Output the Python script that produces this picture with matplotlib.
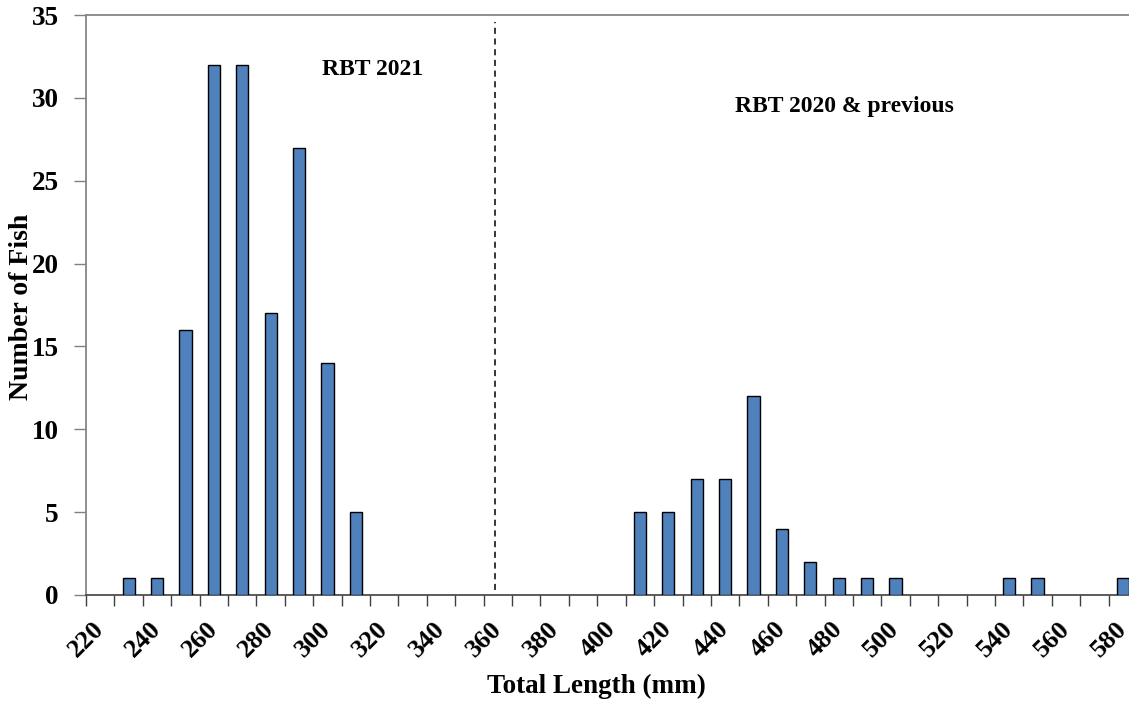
import matplotlib
matplotlib.use("Agg")
import matplotlib.pyplot as plt
import numpy as np

# Length classes (mm) and fish counts per class
lengths = list(range(220, 590, 10))
counts = [0, 1, 1, 16, 32, 32, 17, 27, 14, 5,
          0, 0, 0, 0, 0, 0, 0, 0, 0, 5,
          5, 7, 7, 12, 4, 2, 1, 1, 1, 0,
          0, 0, 1, 1, 0, 0, 1]
tick_labels = [str(v) for v in range(220, 590, 20)]
yticks = list(range(0, 40, 5))
divider_mm = 359
group_labels = ["RBT 2021", "RBT 2020 & previous"]

plt.rcParams['font.family'] = ['Liberation Serif', 'DejaVu Serif']

W, H = 1129, 702
fig = plt.figure(figsize=(W / 100, H / 100), dpi=100)
ax = fig.add_axes([86 / W, 107 / H, 1051 / W, 580 / H])

# Empty classes are left blank rather than drawn as flat outlines
x_drawn = [x for x, c in zip(lengths, counts) if c > 0]
c_drawn = [c for c in counts if c > 0]
ax.bar(x_drawn, c_drawn, width=4.3, color='#4F81BD', edgecolor='black',
       linewidth=1.0, zorder=3)

ax.set_xlim(215, 585)
ax.set_ylim(0, 35)

# Category boundaries get tick marks; labels sit on every other class
ax.set_xticks(np.arange(215, 586, 10))
ax.set_xticklabels([])
ax.set_xticks(list(range(220, 590, 20)), minor=True)
ax.set_xticklabels(tick_labels, minor=True, rotation=45, ha='right',
                   va='center', rotation_mode='anchor', fontsize=19,
                   fontweight='bold')
ax.tick_params(axis='x', which='major', direction='out', length=8,
               width=1, color='#404040')
ax.tick_params(axis='x', which='minor', length=0, pad=22)

ax.set_yticks(yticks)
ax.set_yticklabels([str(v) for v in yticks], fontsize=19.5,
                   fontweight='bold')
ax.tick_params(axis='y', direction='out', length=9, width=1,
               color='#808080', pad=10.5)

for side in ['left', 'top']:
    ax.spines[side].set_color('#868686')
    ax.spines[side].set_linewidth(1.3)
ax.spines['bottom'].set_color('#404040')
ax.spines['bottom'].set_linewidth(1.2)
ax.spines['right'].set_visible(False)

fig.text(22 / W, 1 - 307 / H, "Number of Fish", rotation=90, fontsize=20,
         fontweight='bold', ha='center', va='center')
fig.text(596 / W, 1 - 686 / H, "Total Length (mm)", fontsize=19.5,
         fontweight='bold', ha='center', va='center')

# Divider between year classes
ax.plot([divider_mm, divider_mm], [0.3, 34.6], linestyle=(0, (4, 3)),
        color='black', linewidth=1.1, zorder=2)

ax.text(316, 31.7, group_labels[0], fontsize=17, fontweight='bold',
        ha='center', va='center')
ax.text(482, 29.45, group_labels[1], fontsize=17, fontweight='bold',
        ha='center', va='center')

fig.savefig("out.png", dpi=100)
